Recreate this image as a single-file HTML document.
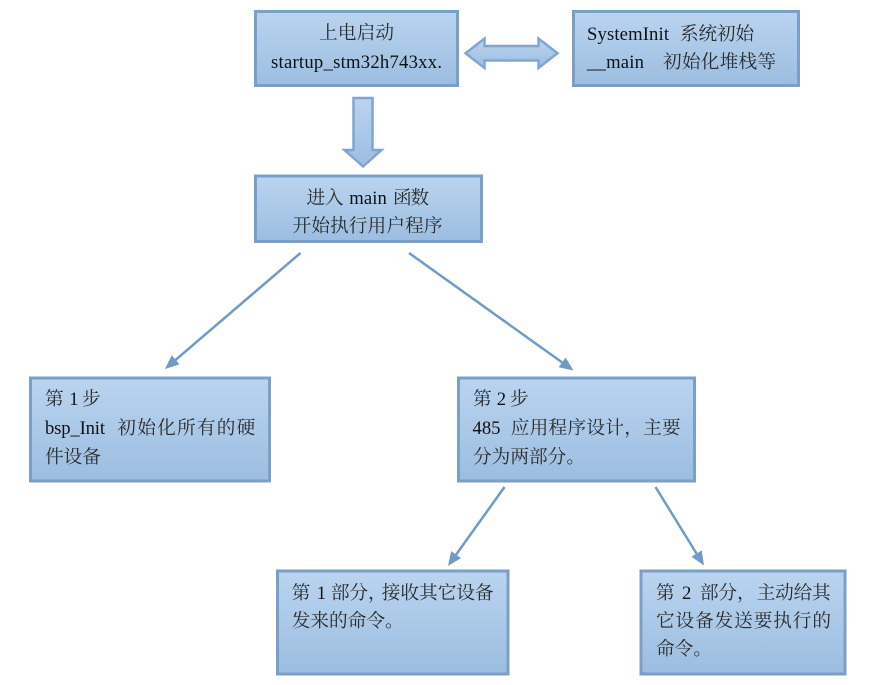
<!DOCTYPE html>
<html>
<head>
<meta charset="utf-8">
<style>
html,body{margin:0;padding:0;background:#fff;width:869px;height:685px;overflow:hidden}
svg{display:block}
text{font-family:"Liberation Serif","Noto Serif CJK SC",serif;font-size:18.67px;fill:#111;white-space:pre}
text.c{fill:#2a2a2a}
.b{fill:url(#g);stroke:#7aa0c8;stroke-width:3}
.a{fill:url(#g);stroke:#80a6cf;stroke-width:2.5;stroke-linejoin:miter}
.l{stroke:#6f9bc6;stroke-width:2.5;fill:none}
.h{fill:#6f9bc6}
</style>
</head>
<body>
<svg width="869" height="685" viewBox="0 0 869 685" xmlns="http://www.w3.org/2000/svg">
<defs>
<linearGradient id="g" x1="0" y1="0" x2="0" y2="1">
<stop offset="0" stop-color="#bad4f0"/>
<stop offset="1" stop-color="#9cbde0"/>
</linearGradient>
</defs>

<rect class="b" x="255.5" y="11.5" width="202" height="74"/>
<rect class="b" x="573.5" y="11.5" width="225" height="74"/>
<rect class="b" x="255.5" y="176" width="226" height="65.5"/>
<rect class="b" x="30.5" y="378" width="239" height="103"/>
<rect class="b" x="458.5" y="378" width="236" height="103"/>
<rect class="b" x="277.5" y="571" width="230.5" height="103"/>
<rect class="b" x="641" y="571" width="204" height="103"/>

<polygon class="a" points="465.5,53.3 484.5,38.5 484.5,46 538.5,46 538.5,38.5 557.5,53.3 538.5,68 538.5,60.5 484.5,60.5 484.5,68"/>
<polygon class="a" points="353.5,98 372.5,98 372.5,150 381.5,150 363,166.5 344.5,150 353.5,150"/>

<line class="l" x1="300.5" y1="253" x2="175.6" y2="359.9"/>
<polygon class="h" points="165,369 179.5,364.4 171.7,355.3"/>
<line class="l" x1="409" y1="253" x2="562.1" y2="362.4"/>
<polygon class="h" points="573.5,370.5 558.6,367.3 565.6,357.5"/>
<line class="l" x1="504.5" y1="487" x2="456.1" y2="554.6"/>
<polygon class="h" points="448,566 461,558.1 451.2,551.1"/>
<line class="l" x1="655.5" y1="487" x2="696.6" y2="553.6"/>
<polygon class="h" points="704,565.5 691.5,556.8 701.7,550.4"/>

<text class="c" x="319" y="39" textLength="75">上电启动</text>
<text x="271" y="68" textLength="171">startup_stm32h743xx.</text>

<text x="587" y="40" textLength="82">SystemInit</text>
<text class="c" x="680" y="40" textLength="74">系统初始</text>
<text x="587" y="68" textLength="57">__main</text>
<text class="c" x="663" y="68" textLength="113">初始化堆栈等</text>

<text class="c" x="306.5" y="204" textLength="37">进入</text>
<text x="349.3" y="204" textLength="37.5">main</text>
<text class="c" x="393" y="204" textLength="36">函数</text>
<text class="c" x="292.5" y="232" textLength="150">开始执行用户程序</text>

<text class="c" x="45" y="405">第</text>
<text x="69.3" y="405">1</text>
<text class="c" x="82" y="405">步</text>
<text x="45" y="434" textLength="60">bsp_Init</text>
<text class="c" x="117.3" y="434" textLength="138">初始化所有的硬</text>
<text class="c" x="45" y="463" textLength="56">件设备</text>

<text class="c" x="473" y="405">第</text>
<text x="496.7" y="405">2</text>
<text class="c" x="510" y="405">步</text>
<text x="472.5" y="434" textLength="28">485</text>
<text class="c" x="510.7" y="434" textLength="170">应用程序设计，主要</text>
<text class="c" x="473" y="463" textLength="112">分为两部分。</text>

<text class="c" x="291.7" y="599">第</text>
<text x="316.7" y="599">1</text>
<text class="c" x="331" y="599" textLength="37">部分</text>
<text class="c" x="368" y="599">，</text>
<text class="c" x="381.7" y="599" textLength="112">接收其它设备</text>
<text class="c" x="291.7" y="627" textLength="112">发来的命令。</text>

<text class="c" x="656" y="599">第</text>
<text x="682" y="599">2</text>
<text class="c" x="700" y="599" textLength="37">部分</text>
<text class="c" x="737" y="599">，</text>
<text class="c" x="756.7" y="599" textLength="74">主动给其</text>
<text class="c" x="656" y="627" textLength="175">它设备发送要执行的</text>
<text class="c" x="656" y="655" textLength="56">命令。</text>
</svg>
</body>
</html>
